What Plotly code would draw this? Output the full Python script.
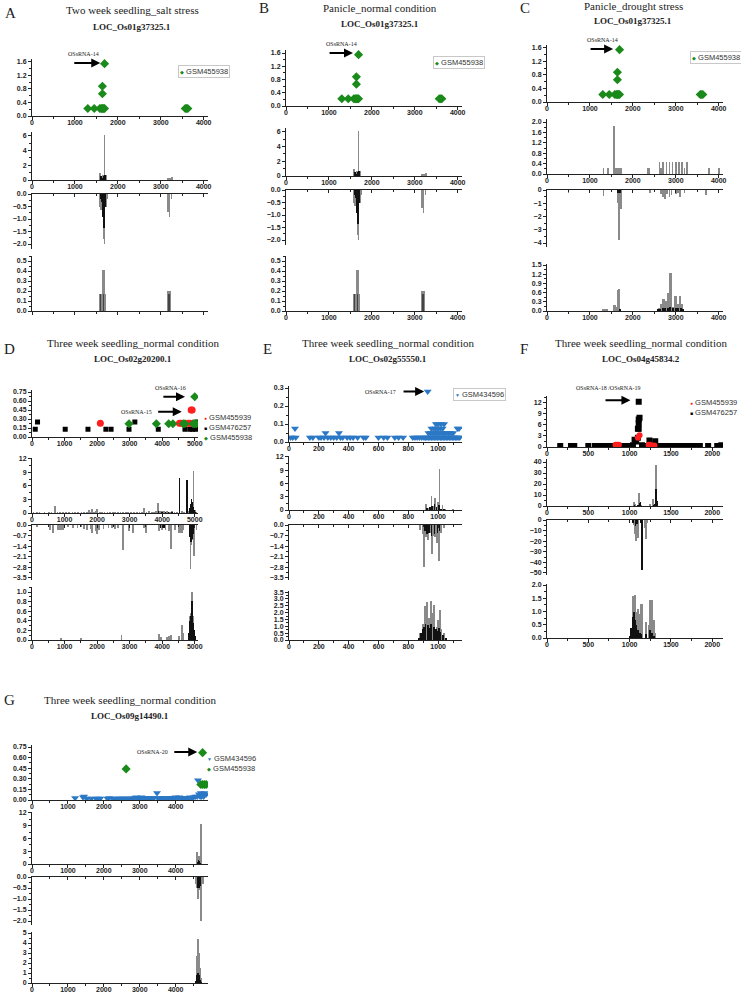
import plotly.graph_objects as go

W, H = 741, 992
OFF = 0

# ---------------- DATA ----------------
# Panels A/B/C : LOC_Os01g37325.1 (GSM455938)
A_sc_x = [1300, 1450, 1580, 1610, 1630, 1650, 1670, 1690, 1640, 1640, 1690, 3570, 3600, 3630]
A_sc_y = [0.22, 0.22, 0.22, 0.22, 0.22, 0.22, 0.22, 0.22, 0.66, 0.88, 1.55, 0.22, 0.22, 0.22]

A_b1g_x = [1580, 1600, 1620, 1650, 1690, 1720, 3170, 3200, 3230, 3260]
A_b1g_y = [0.9, 0.7, 0.5, 0.7, 6.1, 0.6, 0.2, 0.2, 0.3, 0.4]
A_b1k_x = [1590, 1610, 1640, 1660, 1700]
A_b1k_y = [0.4, 0.5, 0.3, 0.5, 0.6]
A_b2g_x = [1570, 1590, 1610, 1640, 1670, 1690, 1720, 1750, 3170, 3200, 3250]
A_b2g_y = [-0.3, -0.5, -0.65, -0.3, -1.8, -2.0, -0.5, -0.2, -0.7, -0.9, -0.2]
A_b2k_x = [1600, 1620, 1640, 1650, 1660, 1680, 1700, 1710]
A_b2k_y = [-0.2, -0.3, -0.3, -0.9, -1.2, -1.35, -0.5, -0.3]
A_b3g_x = [1590, 1630, 1670, 1710, 3180, 3210]
A_b3g_y = [0.17, 0.17, 0.41, 0.17, 0.2, 0.2]
A_b3k_x = [1600, 1660, 3190]
A_b3k_y = [0.17, 0.17, 0.17]

C_b1g_x = [1320, 1420, 1560, 1600, 1620, 1650, 1680, 1720, 2350, 2380, 2620, 2660, 2700, 2780,
           2850, 2920, 3000, 3070, 3140, 3200, 3260, 3760, 3780, 4000]
C_b1g_y = [0.2, 0.2, 1.85, 0.2, 0.2, 0.2, 0.2, 0.2, 0.2, 0.2, 0.45, 0.2, 0.45, 0.45,
           0.45, 0.45, 0.45, 0.45, 0.45, 0.2, 0.45, 0.2, 0.2, 0.2]
C_b2g_x = [500, 1320, 1500, 1640, 1660, 1680, 1720, 2400, 2500, 2650, 2700, 2750, 2800, 2850,
           2900, 3000, 3050, 3100, 3200, 3700]
C_b2g_y = [-0.2, -0.45, -0.15, -1.0, -1.0, -3.8, -1.4, -0.2, -0.15, -0.3, -0.5, -0.7, -0.3, -0.5,
           -0.4, -0.3, -0.2, -0.5, -0.2, -0.4]
C_b2k_x = [1650, 1670, 1700]
C_b2k_y = [-0.2, -0.2, -0.2]
C_b3g_x = [1310, 1360, 1410, 1580, 1620, 1660, 1690, 2620, 2660, 2700, 2740, 2780, 2830, 2870,
           2890, 2950, 3000, 3050, 3100, 3150]
C_b3g_y = [0.08, 0.08, 0.08, 0.2, 0.15, 0.7, 0.72, 0.1, 0.25, 0.42, 0.42, 0.35, 0.62, 1.25,
           1.25, 0.15, 0.52, 0.25, 0.52, 0.25]
C_b3k_x = [1700, 2600, 2640, 2700, 2760, 2820, 2880, 2940, 3000, 3060, 3120, 3180]
C_b3k_y = [0.08, 0.08, 0.08, 0.12, 0.1, 0.12, 0.15, 0.1, 0.1, 0.12, 0.1, 0.08]

# Panel D : LOC_Os02g20200.1
D_k_x = [100, 170, 1020, 1720, 2270, 2430, 2980, 3160, 3880, 4700, 4850, 4930, 5030, 5080]
D_k_y = [0.13, 0.25, 0.13, 0.13, 0.13, 0.13, 0.13, 0.25, 0.13, 0.13, 0.13, 0.13, 0.13, 0.25]
D_r_x = [2100, 4530, 4580, 4800, 4850, 4890, 4920, 4960]
D_r_y = [0.23, 0.23, 0.23, 0.23, 0.23, 0.45, 0.45, 0.23]
D_g_x = [2980, 3820, 4200, 4330, 4650, 4700, 4950, 5000, 5050, 5000]
D_g_y = [0.22, 0.22, 0.22, 0.22, 0.22, 0.22, 0.22, 0.22, 0.22, 0.67]

D_b1g_x = [50, 150, 230, 380, 520, 600, 700, 780, 860, 950, 1050, 1130, 1240, 1330, 1420, 1520,
           1600, 1680, 1760, 1800, 1850, 1900, 1960, 2000, 2080, 2150, 2230, 2320, 2400, 2480,
           2560, 2650, 2720, 2800, 2880, 2960, 3050, 3130, 3220, 3300, 3380, 3450, 3520, 3600,
           3680, 3750, 3820, 3870, 3920, 3960, 4000, 4050, 4100, 4150, 4200, 4250, 4300, 4380,
           4450, 4600, 4680, 4820, 4960, 5000, 5040]
D_b1g_y = [0.2, 0.2, 0.1, 0.2, 0.1, 0.3, 1.7, 0.2, 0.3, 0.1, 0.3, 0.2, 0.3, 0.2, 0.4, 0.2,
           0.3, 0.4, 0.7, 0.4, 1.0, 0.3, 0.5, 0.9, 0.4, 0.3, 0.4, 0.2, 0.4, 0.3,
           0.2, 0.3, 0.2, 0.3, 0.2, 0.4, 0.2, 0.3, 0.2, 0.3, 0.2, 1.2, 0.3, 0.5,
           0.4, 0.3, 0.5, 2.2, 0.6, 0.5, 0.5, 0.6, 0.4, 0.5, 0.4, 0.3, 0.5, 0.4,
           0.3, 0.5, 0.4, 0.6, 9.4, 0.8, 0.3]
D_b1k_x = [3880, 4000, 4100, 4200, 4300, 4530, 4760, 4860, 4880, 4900, 4920, 4940, 4980, 5020]
D_b1k_y = [0.5, 0.4, 0.4, 0.3, 0.3, 7.9, 7.4, 1.2, 2.0, 3.2, 2.5, 1.5, 0.8, 0.4]
D_b2g_x = [150, 550, 650, 800, 850, 900, 950, 1100, 1250, 1400, 1500, 1600, 1700, 1800, 1850,
           1950, 2000, 2050, 2200, 2350, 2450, 2550, 2650, 2800, 2980, 3100, 3450, 3500, 3900,
           4000, 4100, 4200, 4280, 4400, 4500, 4550, 4600, 4650, 4870, 4900, 4930, 4980, 5050]
D_b2g_y = [-0.1, -0.35, -0.5, -0.3, -0.3, -0.3, -0.3, -0.15, -0.2, -0.2, -0.15, -0.25, -0.3, -0.25, -0.5,
           -0.4, -0.6, -0.3, -0.25, -0.2, -0.2, -0.25, -0.2, -1.65, -0.4, -0.5, -0.2, -0.5, -0.4,
           -0.3, -0.3, -0.4, -1.6, -0.3, -0.5, -0.5, -0.5, -0.3, -2.9, -1.3, -1.0, -2.05, -0.3]
D_b2k_x = [3950, 4050, 4850, 4880, 4910, 4940, 4960]
D_b2k_y = [-0.2, -0.2, -0.8, -1.1, -0.9, -0.6, -0.5]
D_b3g_x = [900, 1500, 2750, 3900, 3950, 4150, 4200, 4280, 4520, 4600, 4650, 4850, 4880, 4920, 4950]
D_b3g_y = [0.03, 0.03, 0.1, 0.13, 0.05, 0.05, 0.08, 0.1, 0.08, 0.3, 0.15, 0.5, 0.55, 1.0, 0.5]
D_b3k_x = [4820, 4840, 4860, 4880, 4900, 4910, 4930, 4960, 4980, 5000]
D_b3k_y = [0.15, 0.3, 0.4, 0.5, 0.55, 0.8, 0.5, 0.35, 0.2, 0.08]

# Panel E : LOC_Os02g55550.1 (GSM434596)
E_sc_x = [10, 25, 45, 40, 140, 160, 200, 215, 235, 245, 260, 280, 300, 320, 335, 345, 360, 390,
          410, 430, 460, 500, 515, 600, 635, 660, 710, 735, 765, 830, 845, 860, 875, 890, 905,
          915, 925, 935, 945, 955, 965, 975, 985, 995, 1005, 1015, 1025, 1035, 1045, 1055, 1065,
          1075, 1085, 1095, 1105, 1115, 1125, 1135, 1145,
          935, 950, 965, 980, 995, 1010, 1025, 1040, 1055, 1070, 1085, 1100,
          955, 970, 985, 1000, 1015, 1030, 1130, 1140,
          985, 1000, 1020, 1040, 930]
E_sc_y = [0.025, 0.025, 0.025, 0.075, 0.025, 0.025, 0.025, 0.025, 0.025, 0.05, 0.025, 0.025, 0.025, 0.025, 0.05, 0.025, 0.025, 0.025,
          0.025, 0.025, 0.025, 0.025, 0.025, 0.025, 0.025, 0.025, 0.025, 0.025, 0.025, 0.025, 0.025, 0.025, 0.025, 0.025, 0.025,
          0.025, 0.025, 0.025, 0.025, 0.025, 0.025, 0.025, 0.025, 0.025, 0.025, 0.025, 0.025, 0.025, 0.025, 0.025, 0.025,
          0.025, 0.025, 0.025, 0.025, 0.025, 0.025, 0.025, 0.025,
          0.05, 0.05, 0.05, 0.05, 0.05, 0.05, 0.05, 0.05, 0.05, 0.05, 0.05, 0.05,
          0.075, 0.075, 0.075, 0.075, 0.075, 0.075, 0.075, 0.075,
          0.1, 0.1, 0.1, 0.1, 0.28]
E_b1g_x = [920, 940, 955, 970, 980, 1000, 1010, 1030, 1050, 1100]
E_b1g_y = [1.4, 0.6, 3.2, 1.1, 2.7, 2.0, 9.4, 1.3, 0.2, 0.1]
E_b1k_x = [925, 945, 960, 975, 990, 1005, 1020, 1040]
E_b1k_y = [0.5, 0.8, 1.0, 1.5, 0.8, 1.2, 0.4, 0.2]
E_b2g_x = [880, 895, 905, 920, 930, 945, 960, 970, 980, 990, 1005, 1020, 1040]
E_b2g_y = [-0.3, -0.6, -2.8, -0.8, -1.0, -0.5, -1.9, -0.7, -0.8, -1.2, -2.4, -0.5, -0.2]
E_b2k_x = [910, 925, 940, 955, 975, 995, 1010]
E_b2k_y = [-0.4, -0.6, -0.5, -0.7, -0.6, -0.5, -0.4]
E_b3g_x = [880, 900, 910, 925, 940, 950, 965, 975, 990, 1000, 1010, 1020, 1040]
E_b3g_y = [0.5, 1.2, 2.5, 2.8, 1.6, 2.9, 2.0, 2.6, 1.0, 1.5, 2.2, 0.8, 0.5]
E_b3k_x = [870, 885, 895, 905, 915, 930, 945, 955, 970, 985, 995, 1005, 1015, 1030, 1050]
E_b3k_y = [0.2, 0.5, 0.8, 1.0, 1.2, 1.1, 0.9, 1.2, 1.0, 0.8, 0.7, 0.9, 0.6, 0.4, 0.2]

# Panel F : LOC_Os04g45834.2
F_k_x = [160, 290, 330, 500, 580, 620, 660, 720, 745, 770, 795, 820, 845, 870, 895, 920, 945,
         970, 995, 1020, 1040, 1060, 1080, 1100, 1100, 1110, 1110, 1110, 1120, 1110, 1150, 1175,
         1200, 1225, 1240, 1250, 1275, 1300, 1310, 1325, 1350, 1375, 1400, 1425, 1450, 1475,
         1500, 1525, 1550, 1575, 1600, 1625, 1650, 1675, 1700, 1725, 1750, 1775, 1800, 1825,
         1850, 1950, 2060, 2085, 2110]
F_k_y = [0.3, 0.3, 0.3, 0.3, 0.3, 0.3, 0.3, 0.3, 0.3, 0.3, 0.3, 0.3, 0.3, 0.3, 0.3, 0.3, 0.3,
         0.3, 0.3, 0.3, 0.5, 2.0, 1.5, 2.5, 5.0, 5.0, 6.5, 7.5, 8.0, 12.3, 0.5, 0.3,
         0.3, 0.3, 1.8, 0.3, 0.3, 0.3, 1.6, 0.3, 0.3, 0.3, 0.3, 0.3, 0.3, 0.3,
         0.3, 0.3, 0.3, 0.3, 0.3, 0.3, 0.3, 0.3, 0.3, 0.3, 0.3, 0.3, 0.3, 0.3,
         0.3, 0.3, 0.3, 0.3, 0.5]
F_r_x = [830, 850, 870, 1100, 1120, 1230, 1250, 1300]
F_r_y = [0.6, 0.6, 0.6, 2.5, 3.2, 0.6, 0.6, 0.4]
F_b1g_x = [1050, 1070, 1110, 1140, 1250, 1280, 1320]
F_b1g_y = [4.0, 2.0, 12.5, 1.5, 2.0, 7.0, 38.0]
F_b1k_x = [1060, 1100, 1120, 1130, 1290, 1310, 1320, 1330]
F_b1k_y = [1.5, 1.0, 3.0, 4.0, 1.0, 2.0, 16.0, 5.0]
F_b2g_x = [1050, 1060, 1080, 1100, 1190, 1200, 1210]
F_b2g_y = [-5.0, -13.0, -20.0, -17.0, -8.0, -18.0, -3.0]
F_b2k_x = [1040, 1070, 1090, 1130, 1150]
F_b2k_y = [-3.0, -6.0, -4.0, -3.0, -47.0]
F_b3g_x = [1040, 1060, 1080, 1100, 1120, 1140, 1150, 1200, 1230, 1250, 1270, 1290, 1310]
F_b3g_y = [1.6, 1.65, 1.0, 1.1, 0.9, 1.3, 1.28, 0.6, 0.5, 1.45, 1.45, 0.7, 0.2]
F_b3k_x = [1000, 1020, 1040, 1050, 1060, 1070, 1080, 1100, 1120, 1140, 1200, 1250, 1270, 1300]
F_b3k_y = [0.1, 0.4, 0.8, 1.0, 0.7, 0.6, 0.5, 0.3, 0.2, 0.15, 0.15, 0.3, 0.2, 0.1]

# Panel G : LOC_Os09g14490.1
G_b_x = [1200, 1420, 1450, 1530, 1650, 1780, 1850, 1900, 2100, 2150, 2250, 2330, 2400, 2450,
         2500, 2550, 2600, 2650, 2700, 2750, 2800, 2850, 2900, 2950, 3000, 3050, 3100, 3150,
         3200, 3250, 3300, 3350, 3400, 3480, 3500, 3550, 3600, 3650, 3700, 3750, 3800, 3850,
         3900, 3950, 4000, 4050, 4100, 4150, 4200, 4250, 4300, 4350, 4400, 4450, 4500, 4550,
         4620, 4600, 4650, 4700, 4750, 4800, 4850, 4680, 4720, 4780]
G_b_y = [0.03, 0.04, 0.05, 0.02, 0.02, 0.02, 0.02, 0.02, 0.02, 0.03, 0.02, 0.02, 0.02, 0.02,
         0.02, 0.02, 0.02, 0.02, 0.02, 0.02, 0.02, 0.03, 0.04, 0.02, 0.03, 0.04, 0.03, 0.02,
         0.03, 0.02, 0.03, 0.03, 0.03, 0.1, 0.03, 0.02, 0.03, 0.03, 0.03, 0.03, 0.03, 0.03,
         0.03, 0.03, 0.04, 0.03, 0.04, 0.03, 0.03, 0.03, 0.03, 0.03, 0.04, 0.03, 0.04, 0.05,
         0.28, 0.05, 0.08, 0.1, 0.08, 0.1, 0.08, 0.05, 0.05, 0.05]
G_g_x = [2620, 4750, 4700, 4750, 4800, 4850]
G_g_y = [0.44, 0.67, 0.22, 0.22, 0.22, 0.22]
G_b1g_x = [4600, 4650, 4700]
G_b1g_y = [3.0, 2.0, 9.4]
G_b1k_x = [4620, 4640, 4660, 4680]
G_b1k_y = [0.6, 1.0, 0.8, 0.4]
G_b2g_x = [4560, 4600, 4620, 4650, 4700, 4750]
G_b2g_y = [-0.3, -0.5, -1.0, -0.6, -2.0, -0.3]
G_b2k_x = [4610, 4630, 4650, 4670, 4690]
G_b2k_y = [-0.3, -0.5, -0.5, -0.4, -0.3]
G_b3g_x = [4580, 4600, 4620, 4650, 4680, 4700]
G_b3g_y = [1.5, 2.7, 4.4, 3.0, 1.5, 0.5]
G_b3k_x = [4560, 4580, 4600, 4610, 4620, 4630, 4640, 4660, 4680, 4700]
G_b3k_y = [0.2, 0.5, 0.8, 1.0, 0.9, 1.0, 0.8, 0.6, 0.3, 0.1]

# ---------------- LAYOUT GEOMETRY (pixels) ----------------
GREEN, RED, BLACK, BLUE = "#1a8a1a", "#ff1f1f", "#000000", "#2b78c5"
GRAY, DARK = "#8a8a8a", "#111111"

fig = go.Figure()
layout = dict(template="none", width=W, height=H, margin=dict(l=0, r=0, t=0, b=0, pad=0),
              showlegend=False, paper_bgcolor="white", plot_bgcolor="white")

TF = dict(family="Liberation Sans", size=7, color="#222", weight="bold")


def px_x(p):
    return (p - OFF) / W


def px_y(p):
    return 1 - (p - OFF) / H


def add_axes(i, xpx, xr, xd, ypx, yr, yd, fmt, xlabels=True, xside="bottom"):
    xa = "xaxis" if i == 1 else f"xaxis{i}"
    ya = "yaxis" if i == 1 else f"yaxis{i}"
    tdir = "outside" if xside == "bottom" else "inside"
    layout[xa] = dict(domain=[px_x(xpx[0]), px_x(xpx[1])], range=xr, dtick=xd, tick0=0,
                      anchor=f"y{i}", automargin=False, showline=True, linecolor="#222",
                      linewidth=1, ticks=tdir, ticklen=3, tickwidth=1, tickcolor="#222",
                      showgrid=False, zeroline=False, side=xside, showticklabels=xlabels,
                      tickfont=TF, ticklabelstandoff=-3,
                      minor=dict(dtick=xd / 2, tick0=0, ticks=tdir, ticklen=2, tickcolor="#222",
                                 showgrid=False))
    layout[ya] = dict(domain=[px_y(ypx[1]), px_y(ypx[0])], range=yr, dtick=yd, tick0=0,
                      anchor=f"x{i}", automargin=False, showline=True, linecolor="#222",
                      linewidth=1, ticks="outside", ticklen=3, tickwidth=1, tickcolor="#222",
                      showgrid=False, zeroline=False, tickfont=TF, tickformat=fmt,
                      minor=dict(dtick=yd / 2, tick0=0, ticks="outside", ticklen=2,
                                 tickcolor="#222", showgrid=False))


def xy(i):
    return ("x" if i == 1 else f"x{i}"), ("y" if i == 1 else f"y{i}")


def add_bar(i, x, y, color, width):
    xr, yr = xy(i)
    fig.add_trace(go.Bar(x=x, y=y, width=width, marker=dict(color=color, line=dict(width=0)),
                         xaxis=xr, yaxis=yr, hoverinfo="x+y"))


def add_pts(i, x, y, color, symbol, size):
    xr, yr = xy(i)
    fig.add_trace(go.Scatter(x=x, y=y, mode="markers", xaxis=xr, yaxis=yr,
                             marker=dict(color=color, symbol=symbol, size=size, line=dict(width=0))))


panels = {
    "A": dict(xpx=(32, 208), xr=[0, 4100], xd=1000,
              rows=[(58.6, 116, [0, 1.7], 0.4, ".1f"), (132.3, 180, [0, 6.5], 2, "d"),
                    (194, 249, [-2.2, 0], 0.5, ".1f"), (256, 311, [0, 0.55], 0.1, ".1f")],
              b3labels=False),
    "B": dict(xpx=(286, 462), xr=[0, 4100], xd=1000,
              rows=[(49.7, 106, [0, 1.7], 0.4, ".1f"), (128.3, 176, [0, 6.5], 2, "d"),
                    (190, 245, [-2.2, 0], 0.5, ".1f"), (256, 311, [0, 0.55], 0.1, ".1f")],
              b3labels=True),
    "C": dict(xpx=(547, 723), xr=[0, 4100], xd=1000,
              rows=[(44.6, 102, [0, 1.7], 0.4, ".1f"), (119.4, 174, [0, 2.1], 0.4, ".1f"),
                    (190, 247, [-4.3, 0], 1, "d"), (263.5, 311, [0, 1.55], 0.3, ".1f")],
              b3labels=True),
    "D": dict(xpx=(32, 198), xr=[0, 5100], xd=1000,
              rows=[(390.2, 437, [0, 0.78], 0.15, ".2f"), (457.6, 513, [0, 12.3], 3, "d"),
                    (525, 579.5, [-3.6, 0], 0.7, ".1f"), (587.2, 640, [0, 1.1], 0.2, ".1f")],
              b3labels=True),
    "E": dict(xpx=(289, 462), xr=[0, 1160], xd=200,
              rows=[(386.2, 442, [0, 0.31], 0.1, ".1f"), (455.6, 510, [0, 12.3], 3, "d"),
                    (525, 579.5, [-3.6, 0], 0.7, ".1f"), (590.7, 640, [0, 3.6], 0.5, ".1f")],
              b3labels=True),
    "F": dict(xpx=(547, 723), xr=[0, 2130], xd=500,
              rows=[(395.6, 447, [0, 14], 3, "d"), (458.7, 506, [0, 43], 10, "d"),
                    (520, 575, [-52, 0], 10, "d"), (583.7, 638, [0, 2.05], 0.5, ".1f")],
              b3labels=True),
    "G": dict(xpx=(32, 208), xr=[0, 4900], xd=1000,
              rows=[(744.9, 800, [0, 0.78], 0.15, ".2f"), (811.7, 864, [0, 12.3], 3, "d"),
                    (877, 925.4, [-2.2, 0], 0.5, ".1f"), (932, 983, [0, 5.1], 1, "d")],
              b3labels=True),
}

order = ["A", "B", "C", "D", "E", "F", "G"]
idx = {}
for p, name in enumerate(order):
    spec = panels[name]
    for s, (yt, yb, yrng, yd, fmt) in enumerate(spec["rows"]):
        i = p * 4 + s + 1
        idx[(name, s)] = i
        labels, side = True, "bottom"
        if s == 2:
            labels, side = False, "top"
        if s == 3:
            labels = spec["b3labels"]
        add_axes(i, spec["xpx"], spec["xr"], spec["xd"], (yt, yb), yrng, yd, fmt, labels, side)

# ---- traces ----
for name in ["A", "B", "C"]:
    add_pts(idx[(name, 0)], A_sc_x, A_sc_y, GREEN, "diamond", 7)

for name in ["A", "B"]:
    add_bar(idx[(name, 1)], A_b1g_x, A_b1g_y, GRAY, 14)
    add_bar(idx[(name, 1)], A_b1k_x, A_b1k_y, DARK, 10)
    add_bar(idx[(name, 2)], A_b2g_x, A_b2g_y, GRAY, 14)
    add_bar(idx[(name, 2)], A_b2k_x, A_b2k_y, DARK, 10)
    add_bar(idx[(name, 3)], A_b3g_x, A_b3g_y, GRAY, 40)
    add_bar(idx[(name, 3)], A_b3k_x, A_b3k_y, "#444", 10)

add_bar(idx[("C", 1)], C_b1g_x, C_b1g_y, GRAY, 14)
add_bar(idx[("C", 2)], C_b2g_x, C_b2g_y, GRAY, 14)
add_bar(idx[("C", 2)], C_b2k_x, C_b2k_y, DARK, 10)
add_bar(idx[("C", 3)], C_b3g_x, C_b3g_y, GRAY, 40)
add_bar(idx[("C", 3)], C_b3k_x, C_b3k_y, DARK, 30)

add_pts(idx[("D", 0)], D_k_x, D_k_y, BLACK, "square", 5)
add_pts(idx[("D", 0)], D_r_x, D_r_y, RED, "circle", 7)
add_pts(idx[("D", 0)], D_g_x, D_g_y, GREEN, "diamond", 7)
add_bar(idx[("D", 1)], D_b1g_x, D_b1g_y, GRAY, 22)
add_bar(idx[("D", 1)], D_b1k_x, D_b1k_y, DARK, 18)
add_bar(idx[("D", 2)], D_b2g_x, D_b2g_y, GRAY, 22)
add_bar(idx[("D", 2)], D_b2k_x, D_b2k_y, DARK, 18)
add_bar(idx[("D", 3)], D_b3g_x, D_b3g_y, GRAY, 28)
add_bar(idx[("D", 3)], D_b3k_x, D_b3k_y, DARK, 22)

add_pts(idx[("E", 0)], E_sc_x, E_sc_y, BLUE, "triangle-down", 7)
add_bar(idx[("E", 1)], E_b1g_x, E_b1g_y, GRAY, 5)
add_bar(idx[("E", 1)], E_b1k_x, E_b1k_y, DARK, 4)
add_bar(idx[("E", 2)], E_b2g_x, E_b2g_y, GRAY, 5)
add_bar(idx[("E", 2)], E_b2k_x, E_b2k_y, DARK, 4)
add_bar(idx[("E", 3)], E_b3g_x, E_b3g_y, GRAY, 6)
add_bar(idx[("E", 3)], E_b3k_x, E_b3k_y, DARK, 6)

add_pts(idx[("F", 0)], F_k_x, F_k_y, BLACK, "square", 6)
add_pts(idx[("F", 0)], F_r_x, F_r_y, RED, "circle", 6)
add_bar(idx[("F", 1)], F_b1g_x, F_b1g_y, GRAY, 10)
add_bar(idx[("F", 1)], F_b1k_x, F_b1k_y, DARK, 8)
add_bar(idx[("F", 2)], F_b2g_x, F_b2g_y, GRAY, 10)
add_bar(idx[("F", 2)], F_b2k_x, F_b2k_y, DARK, 8)
add_bar(idx[("F", 3)], F_b3g_x, F_b3g_y, GRAY, 12)
add_bar(idx[("F", 3)], F_b3k_x, F_b3k_y, DARK, 12)

add_pts(idx[("G", 0)], G_b_x, G_b_y, BLUE, "triangle-down", 7)
add_pts(idx[("G", 0)], G_g_x, G_g_y, GREEN, "diamond", 7)
add_bar(idx[("G", 1)], G_b1g_x, G_b1g_y, GRAY, 22)
add_bar(idx[("G", 1)], G_b1k_x, G_b1k_y, DARK, 18)
add_bar(idx[("G", 2)], G_b2g_x, G_b2g_y, GRAY, 22)
add_bar(idx[("G", 2)], G_b2k_x, G_b2k_y, DARK, 18)
add_bar(idx[("G", 3)], G_b3g_x, G_b3g_y, GRAY, 24)
add_bar(idx[("G", 3)], G_b3k_x, G_b3k_y, DARK, 22)

layout["barmode"] = "overlay"
layout["bargap"] = 0

# ---------------- TEXT ----------------
ann = []
SERIF = "Liberation Serif"


def ptext(xpx, ypx, text, size, bold=False, xanchor="center"):
    ann.append(dict(x=px_x(xpx), y=px_y(ypx), xref="paper", yref="paper", text=text,
                    showarrow=False, xanchor=xanchor, yanchor="middle",
                    font=dict(family=SERIF, size=size, color="#222", weight="bold" if bold else "normal")))


titles = [("A", 3, 13, 132, 10, 27, "Two week seedling_salt stress", "LOC_Os01g37325.1"),
          ("B", 257, 8, 380, 8, 24, "Panicle_normal condition", "LOC_Os01g37325.1"),
          ("C", 518, 8, 633, 6, 21, "Panicle_drought stress", "LOC_Os01g37325.1"),
          ("D", 2, 349, 133, 343, 359, "Three week seedling_normal condition", "LOC_Os02g20200.1"),
          ("E", 261, 349, 388, 343, 359, "Three week seedling_normal condition", "LOC_Os02g55550.1"),
          ("F", 518, 349, 641, 343, 359, "Three week seedling_normal condition", "LOC_Os04g45834.2"),
          ("G", 2, 700, 130, 700, 716, "Three week seedling_normal condition", "LOC_Os09g14490.1")]
for letter, lx, ly, tx, ty, ly2, t1, t2 in titles:
    ptext(lx, ly, letter, 15, xanchor="left")
    ptext(tx, ty, t1, 11)
    ptext(tx, ly2, t2, 9, bold=True)


def arrow(i, x0, x1, yv):
    xr, yr = xy(i)
    ann.append(dict(x=x1, y=yv, ax=x0, ay=yv, xref=xr, yref=yr, axref=xr, ayref=yr, text="",
                    showarrow=True, arrowhead=2, arrowsize=0.9, arrowwidth=2, arrowcolor="#000"))


def atext(i, xv, yv, text, xanchor="center", yshift=0):
    xr, yr = xy(i)
    ann.append(dict(x=xv, y=yv, xref=xr, yref=yr, text=text, showarrow=False, xanchor=xanchor,
                    yanchor="middle", yshift=yshift,
                    font=dict(family=SERIF, size=6, color="#222")))


arrow(idx[("A", 0)], 950, 1590, 1.57)
atext(idx[("A", 0)], 1200, 1.57, "OSsRNA-14", yshift=9)
arrow(idx[("B", 0)], 980, 1560, 1.6)
atext(idx[("B", 0)], 1300, 1.6, "OSsRNA-14", yshift=9)
arrow(idx[("C", 0)], 980, 1540, 1.57)
atext(idx[("C", 0)], 1300, 1.57, "OSsRNA-14", yshift=9)
arrow(idx[("D", 0)], 3990, 4700, 0.67)
atext(idx[("D", 0)], 4250, 0.67, "OSsRNA-16", yshift=9)
arrow(idx[("D", 0)], 3830, 4600, 0.42)
atext(idx[("D", 0)], 3760, 0.42, "OSsRNA-15", xanchor="right")
arrow(idx[("E", 0)], 758, 906, 0.28)
atext(idx[("E", 0)], 730, 0.28, "OSsRNA-17", xanchor="right")
arrow(idx[("F", 0)], 690, 1010, 12.7)
atext(idx[("F", 0)], 740, 12.7, "OSsRNA-18 /OSsRNA-19", yshift=12)
arrow(idx[("G", 0)], 3920, 4600, 0.68)
atext(idx[("G", 0)], 3850, 0.68, "OSsRNA-20", xanchor="right")


def legend(xpx, ypx, items, border):
    lines = []
    for sym, col, name in items:
        lines.append(f"<span style='color:{col};font-size:5px'>{sym}</span> {name}")
    ann.append(dict(x=px_x(xpx), y=px_y(ypx), xref="paper", yref="paper", text="<br>".join(lines),
                    showarrow=False, xanchor="left", yanchor="top", align="left",
                    bordercolor="#c8c8c8" if border else "rgba(0,0,0,0)", borderwidth=1, borderpad=1,
                    font=dict(family="Liberation Sans", size=7.5, color="#333")))


legend(178, 65, [("◆", GREEN, "GSM455938")], True)
legend(433, 56, [("◆", GREEN, "GSM455938")], True)
legend(690, 51, [("◆", GREEN, "GSM455938")], True)
legend(202, 411, [("●", RED, "GSM455939"), ("■", BLACK, "GSM476257"), ("◆", GREEN, "GSM455938")], False)
legend(453, 388, [("▼", BLUE, "GSM434596")], True)
legend(688, 396, [("●", RED, "GSM455939"), ("■", BLACK, "GSM476257")], False)
legend(205, 752, [("▼", BLUE, "GSM434596"), ("◆", GREEN, "GSM455938")], False)

layout["annotations"] = ann
fig.update_layout(**layout)
fig.write_html("out.html", config={"displayModeBar": False},
               post_script="document.body.style.margin='0px';document.body.style.padding='0px';")
